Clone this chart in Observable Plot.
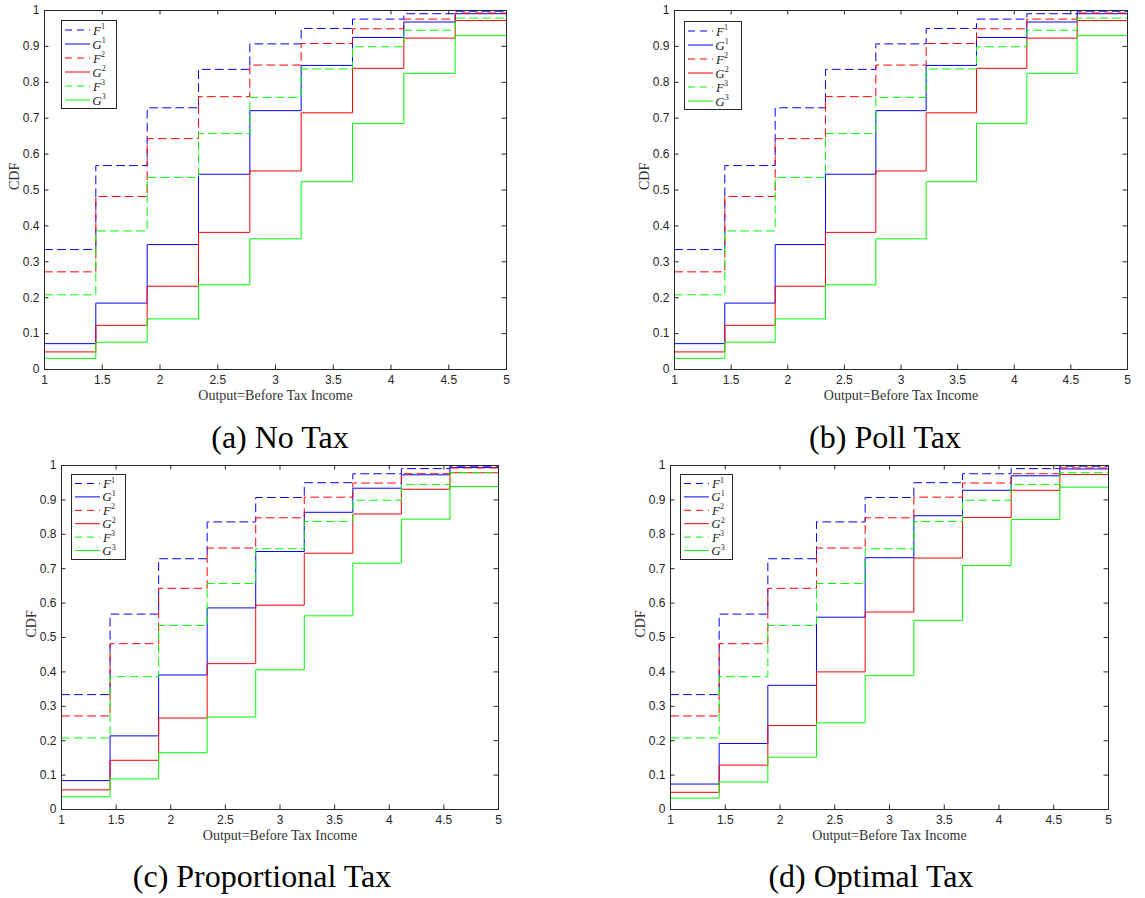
<!DOCTYPE html>
<html><head><meta charset="utf-8">
<script src="https://cdn.jsdelivr.net/npm/d3@7"></script>
<script src="https://cdn.jsdelivr.net/npm/@observablehq/plot@0.6"></script>
<style>
body{margin:0;background:#fff;}
#root{position:relative;width:1145px;height:898px;overflow:hidden;background:#fff;}
.panel{position:absolute;}
.caption{position:absolute;font-family:"Liberation Serif","Times New Roman",serif;font-size:32px;line-height:32px;color:#000;white-space:nowrap;transform:translateX(-50%);}
</style></head><body><div id="root"></div>
<script>
// ---------- data ----------
const outputGrid = [1, 1.4444, 1.8889, 2.3333, 2.7778, 3.2222, 3.6667, 4.1111, 4.5556, 5];
const xTicks = [1, 1.5, 2, 2.5, 3, 3.5, 4, 4.5, 5];
const yTicks = [0, 0.1, 0.2, 0.3, 0.4, 0.5, 0.6, 0.7, 0.8, 0.9, 1];
const xLabel = "Output=Before Tax Income";
const yLabel = "CDF";
const captions = ["(a) No Tax", "(b) Poll Tax", "(c) Proportional Tax", "(d) Optimal Tax"];
const seriesNames = ["F1", "G1", "F2", "G2", "F3", "G3"];
const legendBase = ["F", "G", "F", "G", "F", "G"];
const legendSup = ["1", "1", "2", "2", "3", "3"];

// type distributions (same in all panels)
const F1 = [0.334, 0.568, 0.729, 0.836, 0.907, 0.950, 0.976, 0.991, 0.998, 1];
const F2 = [0.272, 0.482, 0.643, 0.760, 0.848, 0.908, 0.949, 0.976, 0.993, 1];
const F3 = [0.208, 0.386, 0.535, 0.657, 0.758, 0.837, 0.899, 0.945, 0.979, 1];
// output distributions per tax regime
const G1_noTax = [0.072, 0.185, 0.348, 0.544, 0.721, 0.847, 0.925, 0.968, 0.991, 1];
const G2_noTax = [0.049, 0.123, 0.232, 0.382, 0.553, 0.715, 0.839, 0.923, 0.972, 1];
const G3_noTax = [0.031, 0.076, 0.141, 0.236, 0.364, 0.523, 0.685, 0.825, 0.930, 1];
const G1_poll = [0.072, 0.185, 0.348, 0.544, 0.721, 0.847, 0.925, 0.968, 0.991, 1];
const G2_poll = [0.049, 0.123, 0.232, 0.382, 0.553, 0.715, 0.839, 0.923, 0.972, 1];
const G3_poll = [0.031, 0.076, 0.141, 0.236, 0.364, 0.523, 0.685, 0.825, 0.930, 1];
const G1_prop = [0.084, 0.214, 0.391, 0.586, 0.750, 0.864, 0.934, 0.973, 0.994, 1];
const G2_prop = [0.057, 0.143, 0.266, 0.424, 0.594, 0.745, 0.859, 0.931, 0.979, 1];
const G3_prop = [0.037, 0.089, 0.165, 0.269, 0.406, 0.563, 0.716, 0.844, 0.939, 1];
const G1_opt = [0.074, 0.192, 0.361, 0.559, 0.732, 0.854, 0.928, 0.970, 0.990, 1];
const G2_opt = [0.050, 0.129, 0.244, 0.400, 0.574, 0.731, 0.849, 0.928, 0.974, 1];
const G3_opt = [0.033, 0.080, 0.152, 0.252, 0.389, 0.550, 0.709, 0.843, 0.937, 1];

const panelSeries = [
  [F1, G1_noTax, F2, G2_noTax, F3, G3_noTax],
  [F1, G1_poll, F2, G2_poll, F3, G3_poll],
  [F1, G1_prop, F2, G2_prop, F3, G3_prop],
  [F1, G1_opt, F2, G2_opt, F3, G3_opt]
];

// ---------- styles / layout ----------
const seriesColors = ["#0000ff", "#0000ff", "#ff0000", "#ff0000", "#00ff00", "#00ff00"];
const seriesDashed = [true, false, true, false, true, false];
const dashPattern = "8,5";
const axisColor = "#262626";
const frames = [
  {left: 44, top: 10, w: 462, h: 359},
  {left: 674, top: 10, w: 453, h: 359},
  {left: 61, top: 465, w: 437, h: 344},
  {left: 670, top: 465, w: 438, h: 344}
];
const legendBoxes = [
  {x: 61, y: 20, w: 55, h: 88, row: 14, first: 10},
  {x: 684, y: 21, w: 57, h: 88, row: 14, first: 10},
  {x: 71, y: 474, w: 54, h: 85, row: 13.4, first: 9.5},
  {x: 680, y: 474, w: 52, h: 85, row: 13.4, first: 9.5}
];
const captionPos = [{cx: 280, top: 421}, {cx: 885, top: 421}, {cx: 262, top: 860}, {cx: 871, top: 860}];
const M = {left: 50, right: 10, top: 10, bottom: 45};
const tickLen = 4.5;

const root = document.getElementById("root");

panelSeries.forEach((series, p) => {
  const fr = frames[p];
  const rows = [];
  series.forEach((vals, i) => outputGrid.forEach((x, j) => rows.push({s: seriesNames[i], x, y: vals[j]})));

  const lineMarks = seriesNames.map((name, i) => Plot.line(rows.filter(r => r.s === name), {
    x: "x", y: "y", curve: "step-after",
    stroke: seriesColors[i], strokeWidth: 1,
    strokeDasharray: seriesDashed[i] ? dashPattern : null
  }));

  const svg = Plot.plot({
    width: fr.w + M.left + M.right,
    height: fr.h + M.top + M.bottom,
    marginLeft: M.left, marginRight: M.right, marginTop: M.top, marginBottom: M.bottom,
    x: {domain: [1, 5]},
    y: {domain: [0, 1]},
    style: {fontFamily: "'Liberation Sans', Arial, sans-serif", fontSize: "12px", color: axisColor, background: "transparent", overflow: "visible"},
    marks: [
      ...lineMarks,
      Plot.frame({stroke: axisColor, strokeWidth: 1}),
      Plot.tickX(xTicks, {x: d => d, insetTop: fr.h - tickLen, stroke: axisColor}),
      Plot.tickX(xTicks, {x: d => d, insetBottom: fr.h - tickLen, stroke: axisColor}),
      Plot.tickY(yTicks, {y: d => d, insetRight: fr.w - tickLen, stroke: axisColor}),
      Plot.tickY(yTicks, {y: d => d, insetLeft: fr.w - tickLen, stroke: axisColor}),
      Plot.axisX(xTicks, {anchor: "bottom", tickSize: 0, tickPadding: 6, tickFormat: d => String(d), label: null, fill: axisColor}),
      Plot.axisY(yTicks, {anchor: "left", tickSize: 0, tickPadding: 5, tickFormat: d => String(d), label: null, fill: axisColor}),
      Plot.text([xLabel], {text: d => d, frameAnchor: "bottom", dy: 30, fontFamily: "'Liberation Serif', serif", fontSize: 14, fill: "#333"}),
      Plot.text([yLabel], {text: d => d, frameAnchor: "left", dx: -30, rotate: -90, fontFamily: "'Liberation Serif', serif", fontSize: 14, fill: "#333"})
    ]
  });

  // legend drawn inside the plot frame
  const lb = legendBoxes[p];
  const g = d3.select(svg).append("g")
    .attr("transform", `translate(${lb.x - fr.left + M.left},${lb.y - fr.top + M.top})`);
  g.append("rect").attr("x", 0.5).attr("y", 0.5).attr("width", lb.w).attr("height", lb.h)
    .attr("fill", "#fff").attr("stroke", axisColor).attr("stroke-width", 1);
  seriesNames.forEach((name, i) => {
    const yy = lb.first + i * lb.row;
    g.append("line").attr("x1", 4).attr("x2", 29).attr("y1", yy).attr("y2", yy)
      .attr("stroke", seriesColors[i]).attr("stroke-width", 1)
      .attr("stroke-dasharray", seriesDashed[i] ? "7,5" : null);
    const t = g.append("text").attr("x", 38).attr("y", yy + 4.5)
      .attr("font-family", "'Liberation Serif', serif").attr("font-size", 13).attr("fill", "#222");
    t.append("tspan").attr("font-style", "italic").text(legendBase[i]);
    t.append("tspan").attr("font-size", 8).attr("dy", -5.5).text(legendSup[i]);
  });

  const holder = document.createElement("div");
  holder.className = "panel";
  holder.style.left = (fr.left - M.left) + "px";
  holder.style.top = (fr.top - M.top) + "px";
  holder.appendChild(svg);
  root.appendChild(holder);

  const cap = document.createElement("div");
  cap.className = "caption";
  cap.style.left = captionPos[p].cx + "px";
  cap.style.top = captionPos[p].top + "px";
  cap.textContent = captions[p];
  root.appendChild(cap);
});
</script>
</body></html>
